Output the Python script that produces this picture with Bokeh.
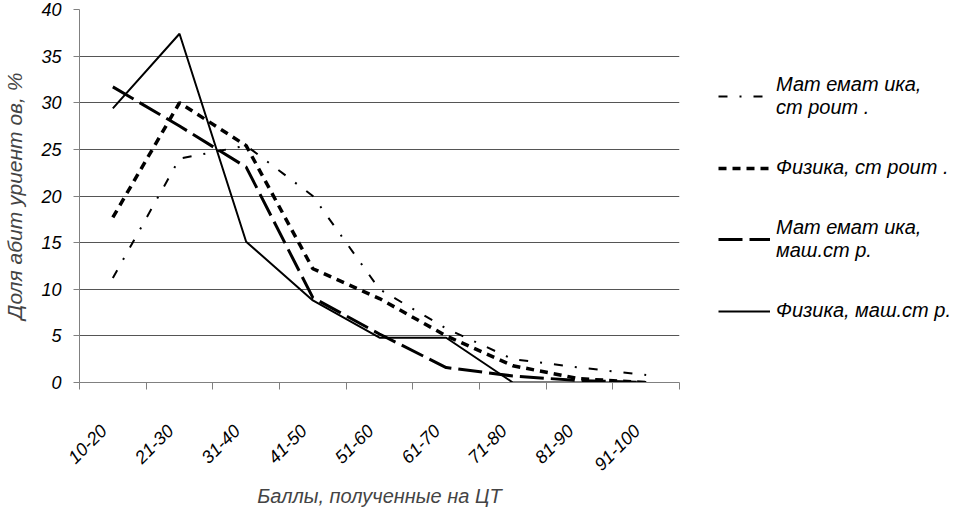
import math
from bokeh.plotting import figure
from bokeh.models import FixedTicker, Legend, LegendItem, Range1d
from bokeh.embed import file_html
from bokeh.resources import INLINE

categories = ["10-20", "21-30", "31-40", "41-50", "51-60", "61-70", "71-80", "81-90", "91-100"]
mat_stroit = [11.2, 24.0, 25.4, 20.0, 10.0, 5.8, 2.5, 1.6, 0.8]
fiz_stroit = [17.7, 30.0, 25.4, 12.2, 9.0, 5.0, 1.8, 0.4, 0.0]
mat_mash = [31.7, 27.5, 23.1, 9.1, 5.2, 1.6, 0.7, 0.2, 0.0]
fiz_mash = [29.4, 37.4, 15.1, 8.8, 4.8, 4.8, 0.0, 0.0, 0.0]
y_ticks = [0, 5, 10, 15, 20, 25, 30, 35, 40]
legend_labels = ["Мат емат ика,\nст роит .", "Физика, ст роит .",
                 "Мат емат ика,\nмаш.ст р.", "Физика, маш.ст р."]

FONT = "Liberation Sans"
x_pos = [i + 0.5 for i in range(len(categories))]
label_pos = [i + 0.36 for i in range(len(categories))]

p = figure(frame_width=600, frame_height=373,
           min_border_left=77, min_border_right=60, min_border_top=9, min_border_bottom=100,
           x_range=Range1d(0, len(categories)), y_range=Range1d(0, 40),
           output_backend="svg", toolbar_location=None)
p.outline_line_color = None
p.background_fill_color = "white"

# axes
xa = p.xaxis[0]
xa.ticker = FixedTicker(ticks=label_pos, minor_ticks=list(range(len(categories) + 1)))
xa.major_label_overrides = {x: c for x, c in zip(label_pos, categories)}
xa.major_label_orientation = math.pi / 4
xa.major_tick_line_color = None
xa.major_tick_out = 0
xa.major_tick_in = 0
xa.minor_tick_line_color = "#808080"
xa.minor_tick_out = 7
xa.minor_tick_in = 0
xa.axis_line_color = "#808080"
xa.major_label_text_font = FONT
xa.major_label_text_font_style = "italic"
xa.major_label_text_font_size = "18px"
xa.major_label_text_color = "black"
xa.major_label_standoff = 38
xa.axis_label = "Баллы, полученные на ЦТ"
xa.axis_label_text_font = FONT
xa.axis_label_text_font_style = "italic"
xa.axis_label_text_font_size = "20px"
xa.axis_label_standoff = 6

ya = p.yaxis[0]
ya.ticker = FixedTicker(ticks=y_ticks, minor_ticks=[])
ya.major_tick_out = 6
ya.major_tick_in = 0
ya.major_tick_line_color = "#808080"
ya.axis_line_color = "#808080"
ya.major_label_text_font = FONT
ya.major_label_text_font_style = "italic"
ya.major_label_text_font_size = "18px"
ya.major_label_text_color = "black"
ya.major_label_standoff = 12
ya.axis_label = "Доля абит уриент ов, %"
ya.axis_label_text_font = FONT
ya.axis_label_text_font_style = "italic"
ya.axis_label_text_font_size = "21px"
ya.axis_label_standoff = 12

p.xgrid.visible = False
p.ygrid.ticker = FixedTicker(ticks=y_ticks)
p.ygrid.grid_line_color = "#555555"
p.ygrid.grid_line_width = 1

r1 = p.line(x_pos, mat_stroit, line_color="black", line_width=2, line_dash="9 12 2 12")
r2 = p.line(x_pos, fiz_stroit, line_color="black", line_width=3.5, line_dash="8 6")
r3 = p.line(x_pos, mat_mash, line_color="black", line_width=3, line_dash="24 7")
r4 = p.line(x_pos, fiz_mash, line_color="black", line_width=2)

legend = Legend(items=[LegendItem(label=lab, renderers=[r])
                       for lab, r in zip(legend_labels, [r1, r2, r3, r4])],
                location=(39, 60), orientation="vertical")
legend.padding = 0
legend.margin = 0
legend.spacing = 37
legend.glyph_width = 52
legend.glyph_height = 20
legend.label_height = 20
legend.label_standoff = 6
legend.border_line_color = None
legend.background_fill_alpha = 0
legend.label_text_font = FONT
legend.label_text_font_style = "italic"
legend.label_text_font_size = "20px"
legend.label_text_line_height = 1.0
legend.label_text_color = "black"
p.add_layout(legend, "right")

open("out.html", "w").write(file_html(p, INLINE))
